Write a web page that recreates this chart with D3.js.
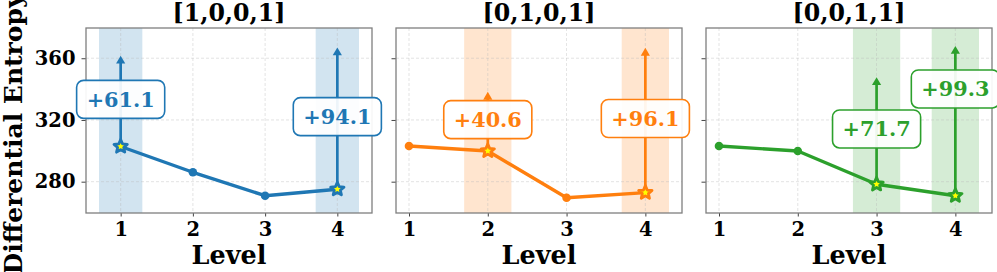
<!DOCTYPE html>
<html lang="en">
<head>
<meta charset="UTF-8">
<title>Differential Entropy by Level</title>
<script src="https://d3js.org/d3.v7.min.js"></script>
<style>
	body { margin: 0; background: #fff; }
	svg text { font-family: "DejaVu Serif", serif; font-weight: bold; }
</style>
</head>
<body>
<svg id="chart" width="997" height="272"></svg>
<script>
// data
var levels = [1, 2, 3, 4];
var titles = ["[1,0,0,1]", "[0,1,0,1]", "[0,0,1,1]"];
var entropy1001 = [302.8, 286.1, 270.9, 275.1];
var entropy0101 = [303.1, 299.9, 269.6, 272.9];
var entropy0011 = [303.1, 299.9, 278.3, 270.9];
var marked1001 = [1, 4], gains1001 = [61.1, 94.1];
var marked0101 = [2, 4], gains0101 = [40.6, 96.1];
var marked0011 = [3, 4], gains0011 = [71.7, 99.3];
var yTicks = [280, 320, 360];
var colours = ["#1f77b4", "#ff7f0e", "#2ca02c"];

var panels = [
	{title: titles[0], values: entropy1001, marked: marked1001, gains: gains1001, colour: colours[0]},
	{title: titles[1], values: entropy0101, marked: marked0101, gains: gains0101, colour: colours[1]},
	{title: titles[2], values: entropy0011, marked: marked0011, gains: gains0011, colour: colours[2]}
];

var svg = d3.select("#chart");
var plotTop = 28, plotBottom = 213, pw = 286;
var lefts = [86, 396, 706];
var y = d3.scaleLinear().domain([259.7, 379.6]).range([plotBottom, plotTop]);

function starPoints(cx, cy, R, r) {
	var pts = [];
	for (var i = 0; i < 10; i++) {
		var a = -Math.PI / 2 + i * Math.PI / 5;
		var rad = i % 2 === 0 ? R : r;
		pts.push([cx + rad * Math.cos(a), cy + rad * Math.sin(a)]);
	}
	return pts.map(function(p) { return p.join(","); }).join(" ");
}

panels.forEach(function(p, k) {
	var left = lefts[k];
	// autoscale like matplotlib: spans reach +-0.3, plus 5% margin
	var lo = Math.min(levels[0], d3.min(p.marked) - 0.3);
	var hi = Math.max(levels[levels.length - 1], d3.max(p.marked) + 0.3);
	var m = (hi - lo) * 0.05;
	var x = d3.scaleLinear().domain([lo - m, hi + m]).range([left, left + pw]);
	var g = svg.append("g");

	// shaded spans
	g.selectAll("rect.span").data(p.marked).enter().append("rect")
		.attr("x", function(d) { return x(d - 0.3); })
		.attr("width", function(d) { return x(d + 0.3) - x(d - 0.3); })
		.attr("y", plotTop).attr("height", plotBottom - plotTop)
		.attr("fill", p.colour).attr("fill-opacity", 0.2);

	// grid
	g.selectAll("line.gx").data(levels).enter().append("line")
		.attr("x1", x).attr("x2", x).attr("y1", plotTop).attr("y2", plotBottom)
		.attr("stroke", "#bbb").attr("stroke-width", 0.8).attr("stroke-dasharray", "3,2").attr("opacity", 0.5);
	g.selectAll("line.gy").data(yTicks).enter().append("line")
		.attr("x1", left).attr("x2", left + pw).attr("y1", y).attr("y2", y)
		.attr("stroke", "#bbb").attr("stroke-width", 0.8).attr("stroke-dasharray", "3,2").attr("opacity", 0.5);

	// axes
	var xAxis = d3.axisBottom(x).tickValues(levels).tickSize(3.5).tickPadding(4).tickFormat(d3.format("d"));
	var ax = g.append("g").attr("transform", "translate(0," + plotBottom + ")").call(xAxis);
	var yAxis = d3.axisLeft(y).tickValues(yTicks).tickSize(4.5).tickPadding(6);
	if (k > 0) yAxis.tickFormat("");
	var ay = g.append("g").attr("transform", "translate(" + left + ",0)").call(yAxis);
	[ax, ay].forEach(function(a) {
		a.attr("font-family", null).attr("font-size", null);
		a.select(".domain").remove();
		a.selectAll(".tick line").attr("stroke", "#444").attr("stroke-width", 1);
		a.selectAll(".tick text").attr("fill", "#000").style("font-size", "19.5px");
	});
	ax.selectAll(".tick text").attr("dy", "0.8em");

	g.append("rect").attr("x", left).attr("y", plotTop).attr("width", pw).attr("height", plotBottom - plotTop)
		.attr("fill", "none").attr("stroke", "#7f7f7f").attr("stroke-width", 1.3);

	// line and points
	var line = d3.line().x(function(d, i) { return x(levels[i]); }).y(function(d) { return y(d); });
	g.append("path").datum(p.values).attr("d", line)
		.attr("fill", "none").attr("stroke", p.colour).attr("stroke-width", 3.4).attr("stroke-linejoin", "round");
	g.selectAll("circle.pt").data(levels.filter(function(l) { return p.marked.indexOf(l) < 0; }))
		.enter().append("circle")
		.attr("cx", x).attr("cy", function(l) { return y(p.values[l - 1]); }).attr("r", 4.3)
		.attr("fill", p.colour);

	// arrows
	p.marked.forEach(function(l, j) {
		var x0 = x(l), y0 = y(p.values[l - 1]), y1 = y(p.values[l - 1] + p.gains[j]) + 3.5;
		g.append("line").attr("x1", x0).attr("x2", x0).attr("y1", y0).attr("y2", y1 + 7)
			.attr("stroke", p.colour).attr("stroke-width", 2.7);
		g.append("path").attr("d", "M" + (x0 - 4.6) + "," + (y1 + 7.8) + "L" + x0 + "," + y1 + "L" + (x0 + 4.6) + "," + (y1 + 7.8) + "Z")
			.attr("fill", p.colour);
	});

	// stars
	p.marked.forEach(function(l) {
		g.append("polygon").attr("points", starPoints(x(l), y(p.values[l - 1]), 7, 3.2))
			.attr("fill", "#ffff00").attr("stroke", p.colour).attr("stroke-width", 2.8).attr("stroke-linejoin", "round");
	});

	// gain labels
	var prev = null;
	p.marked.forEach(function(l, j) {
		var cx = x(l);
		var cy = y(p.values[l - 1] + p.gains[j] / 2);
		var lg = g.append("g");
		var box = lg.append("rect");
		var t = lg.append("text").text("+" + p.gains[j].toFixed(1))
			.attr("text-anchor", "middle").attr("dominant-baseline", "central")
			.attr("fill", p.colour).style("font-size", "20.8px");
		var w = t.node().getComputedTextLength() + 20, h = 38;
		if (prev && Math.abs(cx - prev.cx) < (w + prev.w) / 2 && Math.abs(cy - prev.cy) < h) {
			cy = prev.cy - h - 2;
		}
		t.attr("x", cx).attr("y", cy);
		box.attr("x", cx - w / 2).attr("y", cy - h / 2).attr("width", w).attr("height", h)
			.attr("rx", 7).attr("fill", "#fff").attr("fill-opacity", 0.92)
			.attr("stroke", p.colour).attr("stroke-width", 1.6);
		prev = {cx: cx, cy: cy, w: w};
	});

	// title and x label
	svg.append("text").attr("x", left + pw / 2).attr("y", 20.5).attr("text-anchor", "middle")
		.style("font-size", "23.7px").text(p.title);
	svg.append("text").attr("x", left + pw / 2).attr("y", 264).attr("text-anchor", "middle")
		.style("font-size", "25.5px").text("Level");
});

// figure-level y label, centred on the figure height
svg.append("text").attr("transform", "translate(21.5,134) rotate(-90)")
	.attr("text-anchor", "middle").style("font-size", "25px").text("Differential Entropy");
</script>
</body>
</html>
